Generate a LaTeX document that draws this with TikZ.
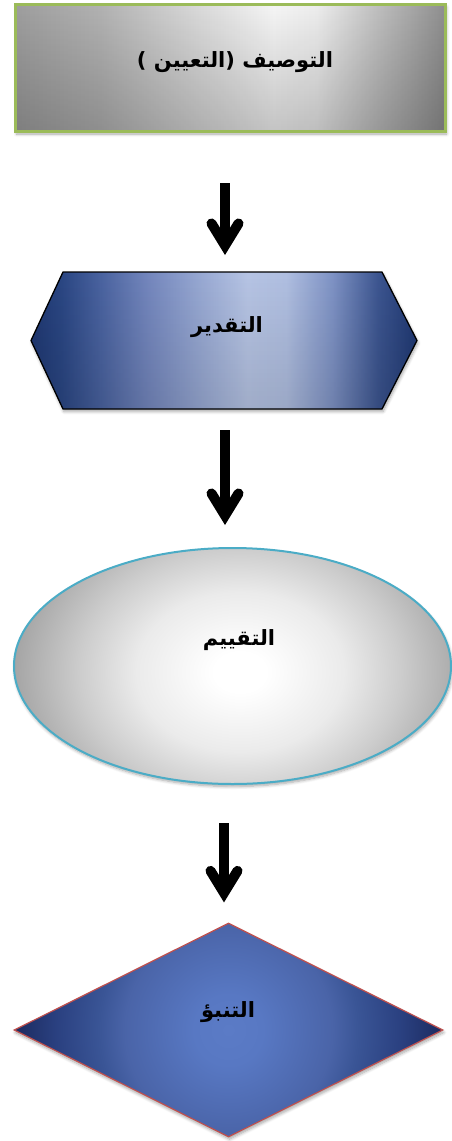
\documentclass[tikz,border=0pt]{standalone}
\usepackage{fontspec}
\usetikzlibrary{arrows.meta,shapes.geometric,fadings,shadows.blur}
\TeXXeTstate=1
\newfontfamily\arabicfont[Script=Arabic]{DejaVu Sans}
\definecolor{rectgreen}{HTML}{9BBB59}
\definecolor{elblue}{HTML}{4BACC6}
\definecolor{dmred}{HTML}{C0504D}
\pgfdeclarehorizontalshading{rectshade}{100bp}{color(0bp)=(black!40); color(25bp)=(black!38); color(35bp)=(black!30); color(46bp)=(black!15); color(55bp)=(black!4); color(60bp)=(black!7); color(67bp)=(black!25); color(75bp)=(black!44); color(100bp)=(black!44)}
\tikzfading[name=rectfade, top color=transparent!100, bottom color=transparent!80]
\tikzfading[name=hexfade, top color=transparent!100, bottom color=transparent!88]
\pgfdeclareradialshading{ellshade}{\pgfpoint{0bp}{0bp}}{color(0bp)=(white); color(2.5bp)=(white); color(10bp)=(black!8); color(15.5bp)=(black!20); color(22bp)=(black!36); color(25bp)=(black!40); color(50bp)=(black!40)}
\pgfdeclareradialshading{dmshade}{\pgfpoint{0bp}{0bp}}{color(0bp)=(rgb,255:red,91;green,123;blue,198); color(4bp)=(rgb,255:red,88;green,120;blue,195); color(12bp)=(rgb,255:red,74;green,100;blue,168); color(15bp)=(rgb,255:red,58;green,85;blue,150); color(20bp)=(rgb,255:red,42;green,64;blue,128); color(25bp)=(rgb,255:red,27;green,42;blue,94); color(50bp)=(rgb,255:red,27;green,42;blue,94)}
\pgfdeclarehorizontalshading{hexshade}{100bp}{color(0bp)=(rgb,255:red,31;green,56;blue,114); color(25bp)=(rgb,255:red,31;green,56;blue,114); color(29bp)=(rgb,255:red,43;green,71;blue,132); color(34bp)=(rgb,255:red,74;green,99;blue,160); color(40bp)=(rgb,255:red,115;green,134;blue,189); color(47bp)=(rgb,255:red,152;green,169;blue,211); color(53bp)=(rgb,255:red,182;green,196;blue,228); color(58bp)=(rgb,255:red,176;green,191;blue,225); color(64bp)=(rgb,255:red,127;green,147;blue,197); color(70bp)=(rgb,255:red,60;green,85;blue,144); color(75bp)=(rgb,255:red,31;green,56;blue,114); color(100bp)=(rgb,255:red,31;green,56;blue,114)}
\tikzset{
  softshadow/.style={blur shadow={shadow xshift=1pt, shadow yshift=-2.5pt, shadow blur radius=3pt, shadow blur steps=6, shadow opacity=35}},
  lbl/.style={font=\arabicfont\bfseries\fontsize{21}{24}\selectfont, inner sep=0pt},
  rectbox/.style={rectangle, draw=rectgreen, line width=3pt, minimum width=430pt, minimum height=127pt, inner sep=0pt, softshadow,
    path picture={
      \shade[shading=rectshade] (path picture bounding box.south west) rectangle (path picture bounding box.north east);
      \fill[black, path fading=rectfade] (path picture bounding box.south west) rectangle (path picture bounding box.north east);}},
  hexframe/.style={rectangle, minimum width=386pt, minimum height=137pt, inner sep=0pt, outer sep=0pt},
  hexpath/.style={draw=black, line width=1.3pt, line join=miter, softshadow,
    path picture={
      \shade[shading=hexshade] (path picture bounding box.south west) rectangle (path picture bounding box.north east);
      \fill[black, path fading=hexfade] (path picture bounding box.south west) rectangle (path picture bounding box.north east);}},
  ellbox/.style={ellipse, draw=elblue, line width=2pt, minimum width=437pt, minimum height=236pt, inner sep=0pt, softshadow,
    path picture={\shade[shading=ellshade] ([xshift=7.5pt,yshift=-6pt]path picture bounding box.center) ellipse [x radius=260pt, y radius=200pt];}},
  dmbox/.style={diamond, draw=dmred, line width=1.2pt, minimum width=429pt, minimum height=214pt, inner sep=0pt, softshadow,
    path picture={\shade[shading=dmshade] (path picture bounding box.center) ellipse [x radius=216pt, y radius=220pt];}},
  arr/.style={line width=10pt, -{Straight Barb[length=22pt, width=27pt, line cap=round, line join=miter]}}
}
\begin{document}
\begin{tikzpicture}[x=1pt, y=-1pt]
\useasboundingbox (0,0) rectangle (452,1141);
% shapes
\node[rectbox] (n1) at (230.5,68) {};
\node[hexframe] (n2) at (224,340.5) {};
\path[hexpath]
  (n2.west) -- ([xshift=32pt]n2.north west) -- ([xshift=-35pt]n2.north east) -- (n2.east)
  -- ([xshift=-35pt]n2.south east) -- ([xshift=32pt]n2.south west) -- cycle;
\node[ellbox] (n3) at (232.5,666) {};
\node[dmbox] (n4) at (228.5,1030) {};
% texts
\node[lbl] (t1) at (235,62) {\beginR التوصيف (التعيين )\endR};
\node[lbl] (t2) at (227,327) {\beginR التقدير\endR};
\node[lbl] (t3) at (239,640) {\beginR التقييم\endR};
\node[lbl] (t4) at (228,1012) {\beginR التنبؤ\endR};
% arrows
\coordinate (a1) at (225,0);
\coordinate (a3) at (224,0);
\draw[arr, shorten <=50pt, shorten >=17pt] (n1.south -| a1) -- (n2.north -| a1);
\draw[arr, shorten <=21pt, shorten >=22pt] (n2.south -| a1) -- (n3.north -| a1);
\draw[arr, shorten <=38pt, shorten >=20pt] (n3.south -| a3) -- (n4.north -| a3);
\end{tikzpicture}
\end{document}
